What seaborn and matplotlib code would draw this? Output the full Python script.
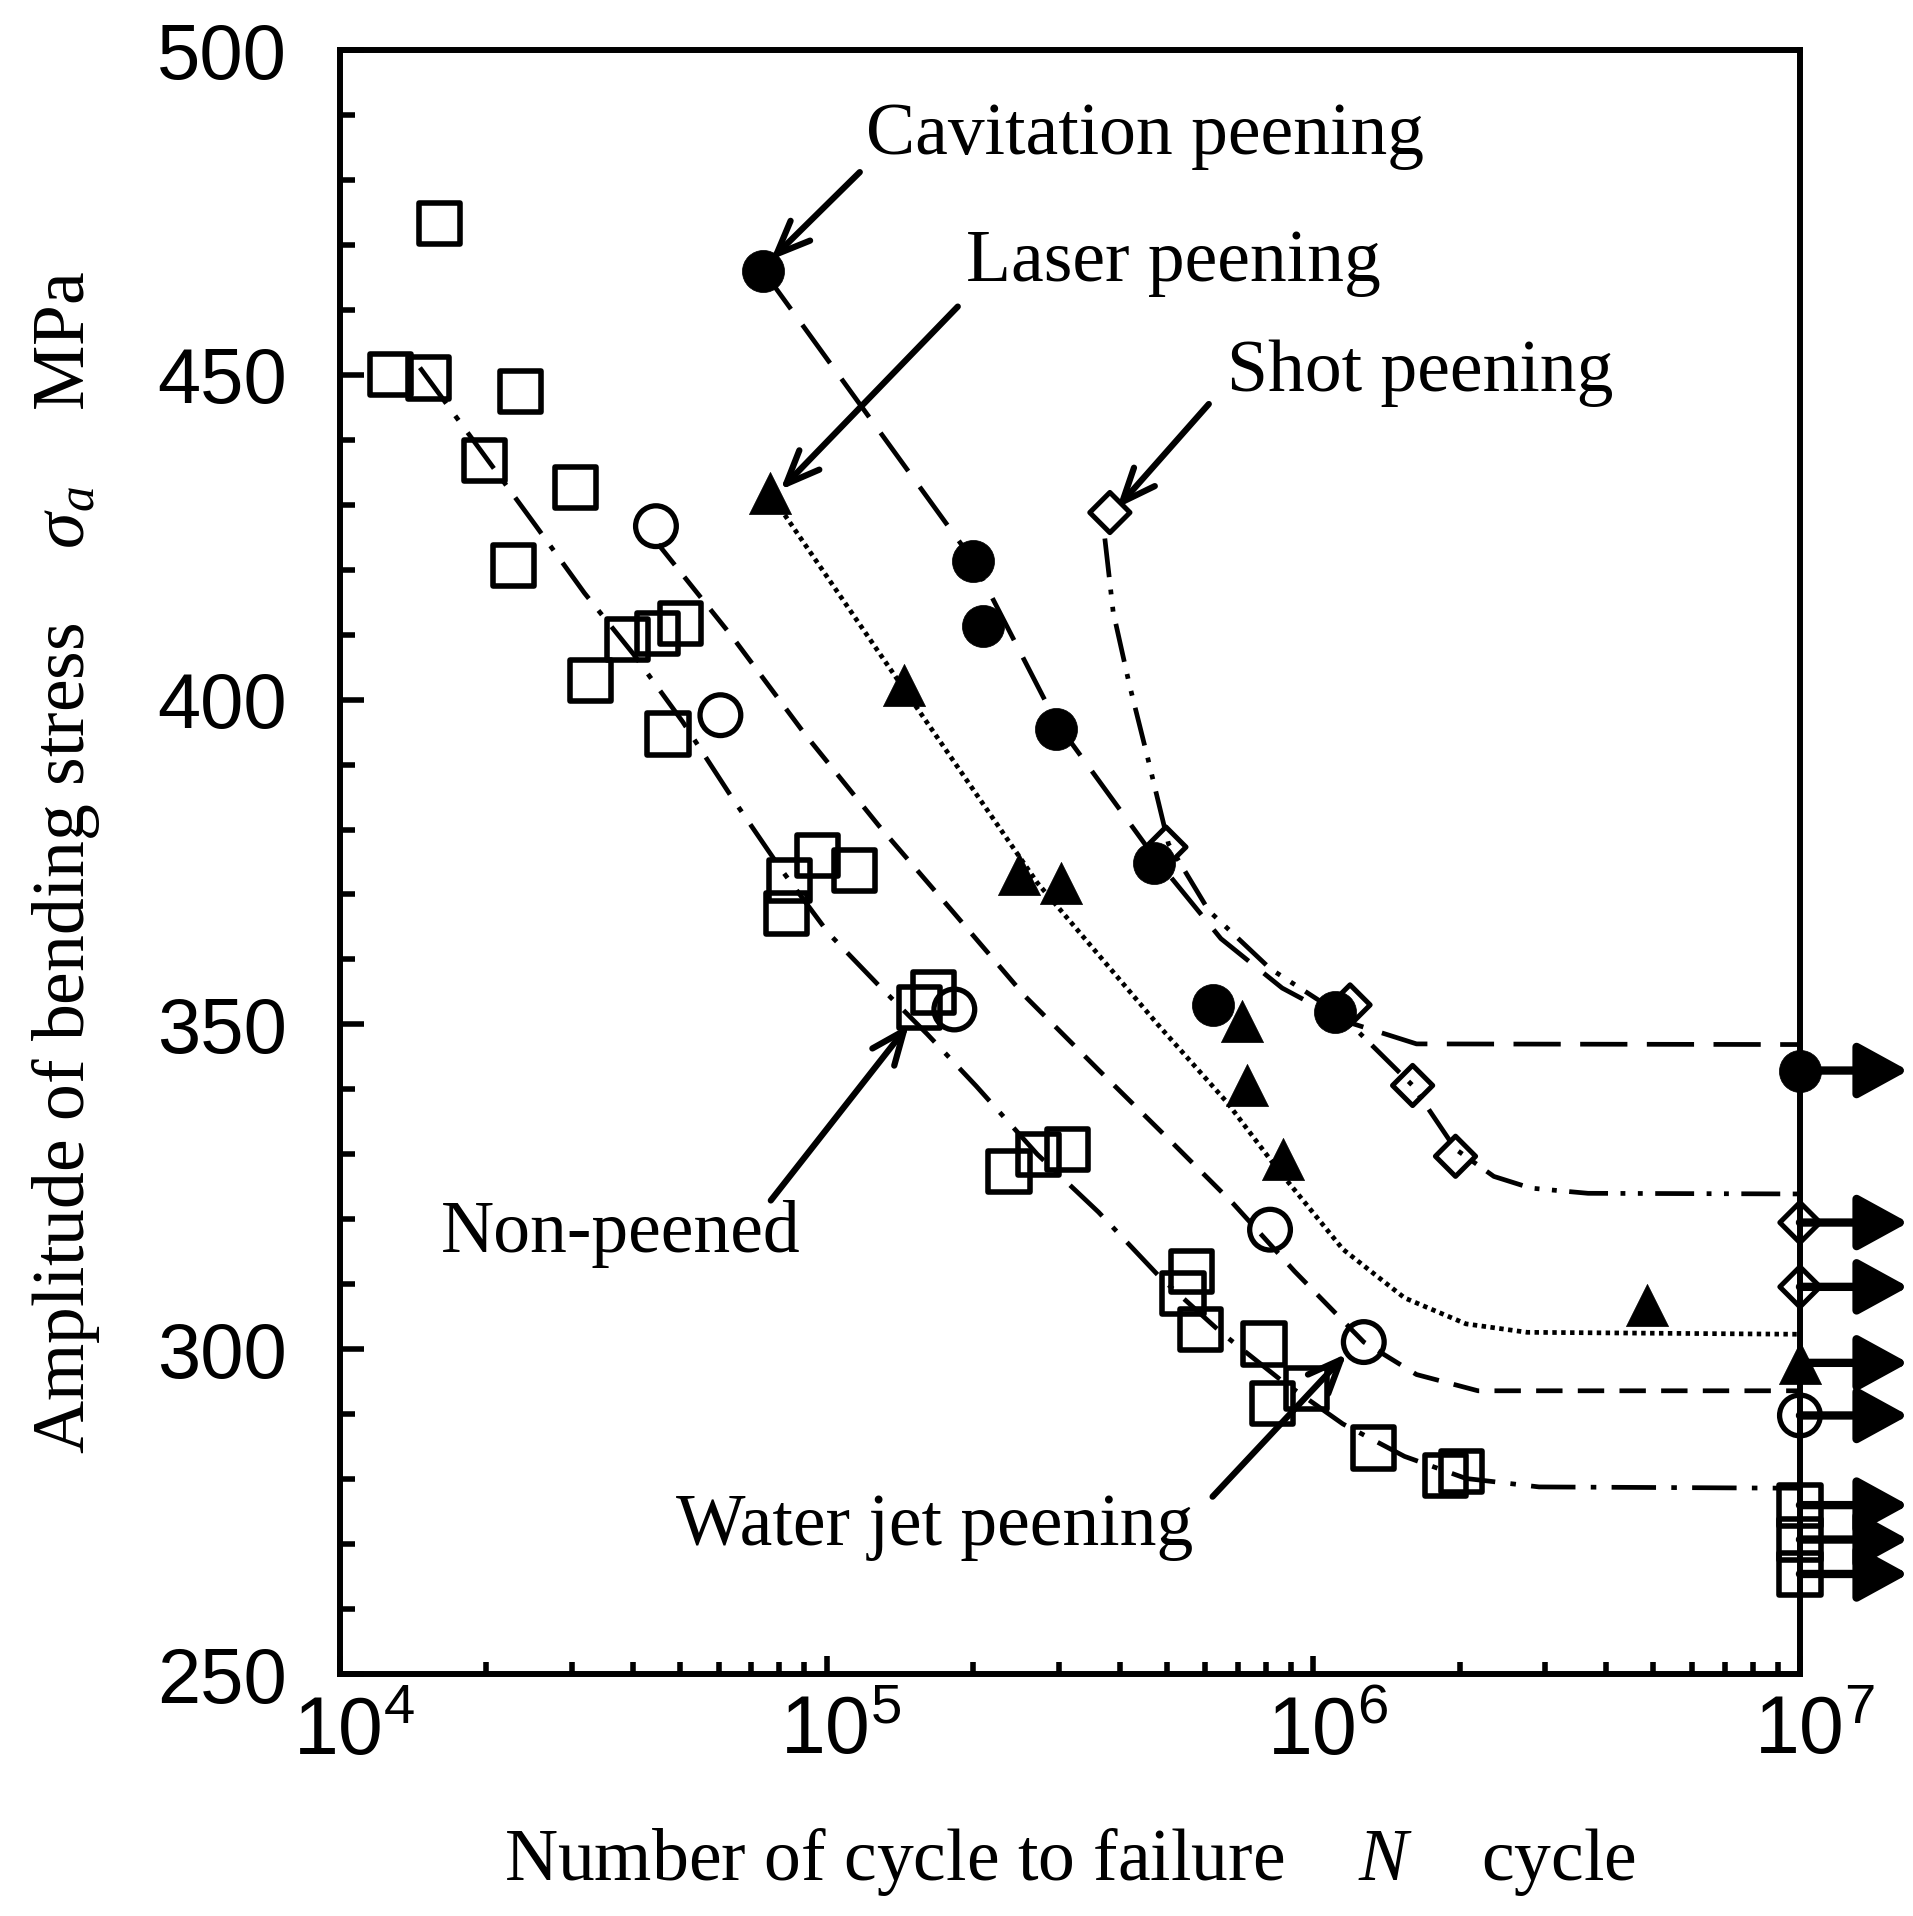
import numpy as np
import pandas as pd
import matplotlib
matplotlib.use("Agg")
import matplotlib.pyplot as plt
import seaborn as sns
from matplotlib.ticker import MultipleLocator, LogLocator, NullFormatter
from matplotlib.transforms import ScaledTranslation

# ---------------- data ----------------
# Non-peened (open squares)
np_N = [1.27e4, 1.52e4, 1.60e4, 1.98e4, 2.35e4, 2.27e4, 3.05e4, 3.27e4, 3.90e4,
        4.50e4, 5.00e4, 4.72e4, 8.28e4, 8.38e4, 9.57e4, 1.14e5, 1.55e5, 1.66e5,
        2.37e5, 2.73e5, 3.13e5, 5.40e5, 5.62e5, 5.86e5, 7.92e5, 8.24e5, 9.69e5,
        1.33e6, 1.87e6, 2.02e6]
np_S = [450.0, 449.5, 473.3, 436.8, 447.4, 420.7, 432.7, 403.0, 409.2,
        410.2, 411.7, 394.7, 367.1, 372.2, 376.0, 373.7, 352.6, 354.9,
        327.4, 330.0, 330.8, 308.6, 312.0, 303.0, 300.8, 291.7, 294.0,
        284.8, 280.6, 281.2]
np_runout_S = [276.0, 270.7, 265.4]

# Water jet peening (open circles)
wj_N = [4.46e4, 6.05e4, 1.83e5, 8.15e5, 1.27e6]
wj_S = [426.7, 397.6, 352.3, 318.4, 301.1]
wj_runout_S = [289.8]

# Laser peening (filled triangles)
lp_N = [7.64e4, 1.44e5, 2.49e5, 3.03e5, 7.13e5, 7.30e5, 8.68e5, 4.84e6]
lp_S = [431.8, 402.3, 373.1, 371.8, 350.6, 340.6, 329.3, 306.8]
lp_runout_S = [297.9]

# Cavitation peening (filled circles)
cp_N = [7.41e4, 2.00e5, 2.10e5, 2.96e5, 4.70e5, 6.21e5, 1.11e6]
cp_S = [466.0, 421.4, 411.3, 395.5, 374.8, 353.0, 351.9]
cp_runout_S = [342.9]

# Shot peening (open diamonds)
sp_N = [3.82e5, 4.98e5, 1.19e6, 1.60e6, 1.96e6]
sp_S = [428.8, 377.3, 353.0, 340.6, 329.7]
sp_runout_S = [319.5, 309.6]

RUNOUT_N = 1e7

# Fitted S-N curves
cp_curve_N = [7.41e4, 2.00e5, 2.96e5, 4.70e5, 6.46e5, 8.63e5, 1.15e6, 1.63e6, 1e7]
cp_curve_S = [466.0, 421.4, 396.6, 375.9, 363.2, 355.6, 350.6, 347.0, 346.9]

sp_curve_N = [3.73e5, 3.88e5, 4.19e5, 4.57e5, 5.04e5, 6.10e5, 8.15e5, 1.14e6,
              1.60e6, 1.96e6, 2.35e6, 2.80e6, 3.67e6, 1e7]
sp_curve_S = [424.8, 413.5, 402.3, 391.0, 377.8, 367.5, 358.6, 351.5,
              340.6, 330.8, 326.6, 324.8, 324.0, 323.9]

lp_curve_N = [7.64e4, 1.44e5, 2.71e5, 4.79e5, 6.65e5, 8.39e5, 1.15e6, 1.54e6,
              2.06e6, 2.75e6, 1e7]
lp_curve_S = [431.8, 401.7, 371.8, 350.0, 338.0, 328.0, 315.4, 307.9,
              303.9, 302.6, 302.3]

wj_curve_N = [4.51e4, 6.38e4, 9.02e4, 1.28e5, 1.81e5, 2.56e5, 3.62e5, 5.13e5,
              6.85e5, 9.15e5, 1.27e6, 1.63e6, 2.18e6, 1e7]
wj_curve_S = [423.9, 409.8, 394.7, 380.6, 367.5, 354.3, 343.0, 331.8,
              322.4, 312.0, 301.1, 296.1, 293.6, 293.6]

np_curve_N = [1.46e4, 1.98e4, 2.53e4, 3.18e4, 4.01e4, 5.06e4, 6.38e4, 8.04e4,
              1.01e5, 1.28e5, 1.61e5, 2.03e5, 2.71e5, 3.62e5, 4.84e5, 6.46e5,
              8.63e5, 1.15e6, 1.54e6, 2.06e6, 2.91e6, 1e7]
np_curve_S = [451.1, 437.6, 426.7, 416.4, 407.0, 396.6, 385.0, 374.0,
              364.0, 356.0, 348.5, 340.5, 330.0, 321.1, 311.1, 302.6,
              295.1, 288.5, 283.5, 280.1, 278.8, 278.6]

x_ticks = [1e4, 1e5, 1e6, 1e7]
y_ticks = [250, 300, 350, 400, 450, 500]

# ---------------- style ----------------
sns.set_style("ticks")
plt.rcParams["font.family"] = ["Liberation Sans", "DejaVu Sans"]
plt.rcParams["mathtext.fontset"] = "custom"
plt.rcParams["mathtext.rm"] = "Liberation Serif"
plt.rcParams["mathtext.it"] = "Liberation Serif:italic"
plt.rcParams["lines.scale_dashes"] = False
plt.rcParams["text.color"] = "black"
plt.rcParams["axes.labelcolor"] = "black"
plt.rcParams["xtick.color"] = "black"
plt.rcParams["ytick.color"] = "black"
plt.rcParams["axes.edgecolor"] = "black"
SERIF = ["Liberation Serif", "DejaVu Serif"]

fig = plt.figure(figsize=(19.13, 19.16), dpi=100)
ax = fig.add_axes([0.1777, 0.1263, 0.7632, 0.8476])
ax.set_xscale("log")
ax.set_xlim(1e4, 1e7)
ax.set_ylim(250, 500)

# ---------------- curves ----------------
curves = pd.concat([
    pd.DataFrame({"N": cp_curve_N, "S": cp_curve_S, "curve": "cp"}),
    pd.DataFrame({"N": sp_curve_N, "S": sp_curve_S, "curve": "sp"}),
    pd.DataFrame({"N": lp_curve_N, "S": lp_curve_S, "curve": "lp"}),
    pd.DataFrame({"N": wj_curve_N, "S": wj_curve_S, "curve": "wj"}),
    pd.DataFrame({"N": np_curve_N, "S": np_curve_S, "curve": "np"}),
], ignore_index=True)
dash_map = {
    "cp": (34, 14),
    "sp": (28, 9, 3.5, 9, 3.5, 9),
    "lp": (3.2, 3.2),
    "wj": (19, 11),
    "np": (32, 11, 4, 11),
}
sns.lineplot(data=curves, x="N", y="S", style="curve", dashes=dash_map,
             estimator=None, sort=False, color="k", lw=3.4, legend=False,
             ax=ax, zorder=2)

# ---------------- markers ----------------
def runout_df(svals):
    return pd.DataFrame({"N": [RUNOUT_N] * len(svals), "S": svals})

series = [
    (np_N, np_S, np_runout_S, "s", 880, "none", 4.0),
    (wj_N, wj_S, wj_runout_S, "o", 860, "none", 3.8),
    (lp_N, lp_S, lp_runout_S, "^", 920, "k", 0.5),
    (cp_N, cp_S, cp_runout_S, "o", 920, "k", 0.5),
    (sp_N, sp_S, sp_runout_S, "D", 420, "none", 3.6),
]
for Ns, Ss, Rs, mk, size, fc, ew in series:
    df = pd.concat([pd.DataFrame({"N": Ns, "S": Ss}), runout_df(Rs)],
                   ignore_index=True)
    sns.scatterplot(data=df, x="N", y="S", marker=mk, s=size, facecolor=fc,
                    edgecolor="k", linewidth=ew, color="k", ax=ax,
                    zorder=4, clip_on=False, legend=False)
    # run-out arrows
    for s in Rs:
        ax.annotate("", xy=(RUNOUT_N, s), xycoords="data",
                    xytext=(78, 0), textcoords="offset points",
                    arrowprops=dict(arrowstyle="<|-,head_length=31,head_width=17",
                                    mutation_scale=1, lw=6, color="k",
                                    shrinkA=0, shrinkB=0),
                    annotation_clip=False, zorder=3)

# ---------------- labelled arrows ----------------
labels = [
    ("Cavitation peening", (1.205e5, 486.8), (1.17e5, 481.2), (7.68e4, 467.7)),
    ("Laser peening", (1.936e5, 467.1), (1.86e5, 460.5), (8.04e4, 432.3)),
    ("Shot peening", (6.65e5, 450.2), (6.10e5, 445.5), (3.95e5, 429.5)),
    ("Non-peened", (1.61e4, 317.7), (7.68e4, 322.9), (1.476e5, 350.0)),
    ("Water jet peening", (4.91e4, 272.6), (6.21e5, 277.3), (1.17e6, 299.3)),
]
for txt, tpos, tail, head in labels:
    ax.text(tpos[0], tpos[1], txt, fontfamily=SERIF, fontsize=53,
            ha="left", va="center", zorder=5, color="black")
    ax.annotate("", xy=head, xytext=tail,
                arrowprops=dict(arrowstyle="->,head_length=24,head_width=10",
                                mutation_scale=1, lw=4.5, color="k",
                                shrinkA=0, shrinkB=0), zorder=5)

# ---------------- axes ----------------
ax.set_xticks(x_ticks)
ax.xaxis.set_minor_locator(LogLocator(base=10, subs=np.arange(2, 10)))
ax.xaxis.set_minor_formatter(NullFormatter())
ax.set_yticks(y_ticks)
ax.yaxis.set_minor_locator(MultipleLocator(10))

for side in ["left", "right", "top", "bottom"]:
    ax.spines[side].set_linewidth(4.3)
    ax.spines[side].set_color("k")
ax.tick_params(axis="both", which="both", direction="in", color="k",
               labelcolor="k", width=4.0, top=False, right=False)
ax.tick_params(axis="y", which="major", length=17, pad=38, labelsize=56)
ax.tick_params(axis="y", which="minor", length=11)
ax.tick_params(axis="x", which="major", length=13, pad=15, labelsize=58)
ax.tick_params(axis="x", which="minor", length=9)

ax.set_xlabel(r"Number of cycle to failure    $N$    cycle",
              fontfamily=SERIF, fontsize=53, labelpad=40, color="black")
ax.set_ylabel(r"Amplitude of bending stress    $\sigma_a$    MPa",
              fontfamily=SERIF, fontsize=53, labelpad=40, color="black")

fig.canvas.draw()
shift = ScaledTranslation(0.14, 0, fig.dpi_scale_trans)
for lab in ax.get_xticklabels():
    lab.set_transform(lab.get_transform() + shift)

fig.savefig("out.png", dpi=100)
